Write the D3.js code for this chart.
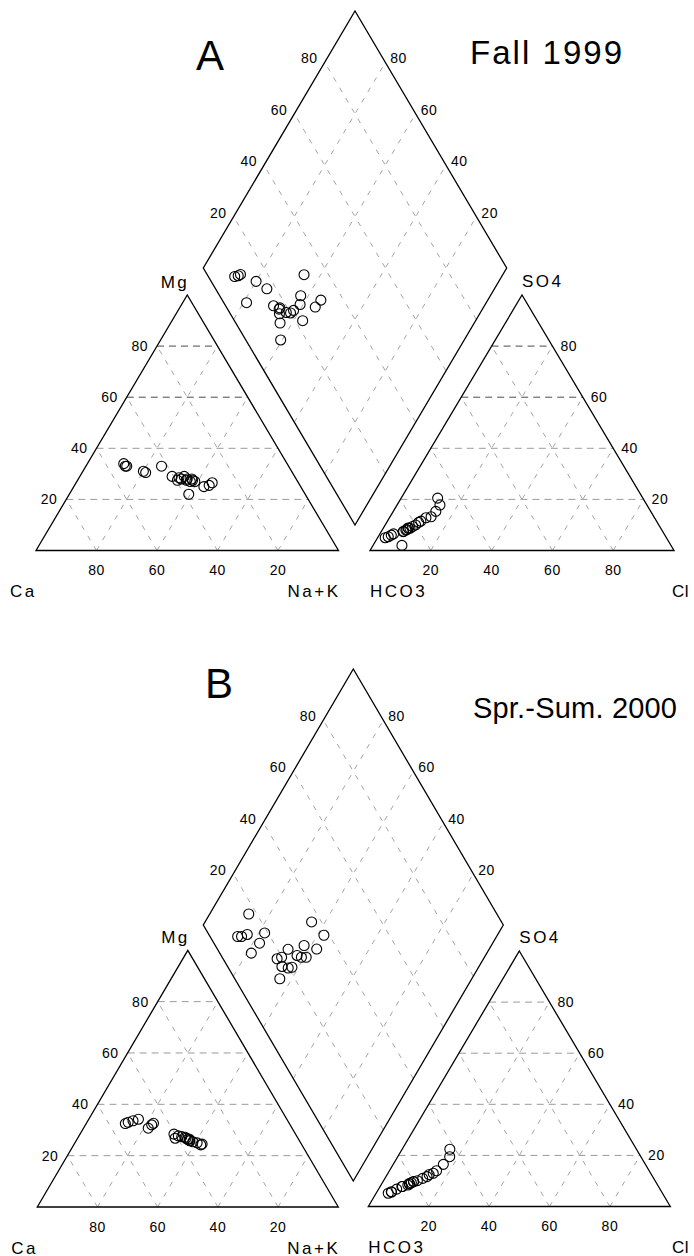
<!DOCTYPE html>
<html><head><meta charset="utf-8">
<script src="https://cdn.jsdelivr.net/npm/d3@7"></script>
<style>
body{margin:0;background:#fff}
svg{display:block}
text{font-family:Arial,"Liberation Sans",sans-serif;fill:#000}
</style>
</head><body>
<svg id="chart" width="694" height="1256"></svg>
<script>
// ---------- data ----------
const gridTicks = [20, 40, 60, 80];
const panelLetters = ["A", "B"];
const panelTitles = ["Fall 1999", "Spr.-Sum. 2000"];
const cationLabels = ["Ca", "Mg", "Na+K"];
const anionLabels = ["HCO3", "SO4", "Cl"];

// Fall 1999 samples (percent of meq)
const fallNaK = [12, 13, 13.5, 20, 25, 34.5, 21, 30.5, 33, 33, 37.5, 39, 45, 44.5, 38, 36, 37.5, 34, 36, 43, 39.5];
const fallMg  = [34, 33, 33, 31, 33, 29, 30.5, 29, 27.5, 28.5, 27, 27, 26.5, 25.5, 27.5, 28, 28, 28, 27.5, 25, 22];
const fallSO4 = [5.4, 6, 6.5, 7.5, 8.8, 17.8, 5, 8, 8.7, 8.7, 13.2, 12.8, 20.5, 15.3, 11, 9.4, 10, 8.2, 7.4, 11.5, 2];
const fallCl  = [3.3, 4, 4.5, 7.3, 8.1, 14.1, 2.5, 7.8, 8.3, 8.8, 13.5, 12, 12, 14, 10.5, 9.3, 10, 8, 7.2, 11, 9.5];

// Spring-Summer 2000 samples
const sprNaK = [13, 13.7, 15, 16.5, 22, 22.3, 21.5, 35.5, 42.2, 37.6, 42.5, 33, 32.4, 31.2, 37.2, 39, 40.6, 34.3, 36.7, 37.8, 36];
const sprMg  = [32.5, 33, 33.6, 34.2, 32, 32.6, 30.7, 27.2, 24.2, 26, 24.5, 27.7, 26.8, 28.4, 26.5, 25.4, 25, 27.4, 26.4, 25.8, 26.8];
const sprSO4 = [8.4, 5.2, 5.8, 6.8, 9.3, 7.8, 5.6, 19.5, 22.4, 14, 16.5, 11, 9.7, 8.8, 11.7, 12.5, 13, 9, 9.8, 10.1, 7.8];
const sprCl  = [8.9, 4.0, 4.7, 6, 9.6, 7.4, 4.9, 17.2, 15.8, 15.6, 16.6, 12.5, 10.1, 9.2, 13.6, 13.9, 15, 9.1, 10.1, 11.2, 7.2];

// ---------- layout ----------
const panels = [
  { letter: panelLetters[0], title: panelTitles[0], naK: fallNaK, mg: fallMg, so4: fallSO4, cl: fallCl,
    left: {x0: 36, w: 302.5, y0: 550.5, h: 255.5},
    right: {x0: 370, w: 304, y0: 550.5, h: 255.5},
    dia: {bx: 355, by: 525, hw: 151.7, hh: 257},
    letterPos: [196, 70], titlePos: [470, 64], titleLen: 152, titleSize: 33,
    darkRows: [60, 80] },
  { letter: panelLetters[1], title: panelTitles[1], naK: sprNaK, mg: sprMg, so4: sprSO4, cl: sprCl,
    left: {x0: 37.3, w: 301, y0: 1207, h: 256.7},
    right: {x0: 368.3, w: 302, y0: 1206.5, h: 255.5},
    dia: {bx: 353.3, by: 1181, hw: 150, hh: 256},
    letterPos: [205, 698], titlePos: [473, 718], titleLen: 204, titleSize: 29,
    darkRows: [] }
];

const svg = d3.select("#chart");

function triScales(g) {
  return {
    x: d3.scaleLinear().domain([0, 100]).range([g.x0, g.x0 + g.w]),
    y: d3.scaleLinear().domain([0, 100]).range([g.y0, g.y0 - g.h])
  };
}
// right = % of lower-right component, top = % of apex component
function triPos(s, right, top) { return [s.x(right + top / 2), s.y(top)]; }

function diaScales(g) {
  return {
    x: d3.scaleLinear().domain([-100, 100]).range([g.bx - g.hw, g.bx + g.hw]),
    y: d3.scaleLinear().domain([0, 200]).range([g.by, g.by - 2 * g.hh])
  };
}
// a = SO4+Cl, c = Ca+Mg
function diaPos(s, a, c) { return [s.x(a - c), s.y(a + c)]; }

const line = d3.line();

function drawTriangle(p, g, isCation) {
  const s = triScales(g);
  const grp = svg.append("g");
  gridTicks.forEach(t => {
    const dark = p.darkRows.includes(t);
    grp.append("path").attr("d", line([triPos(s, 0, t), triPos(s, 100 - t, t)]))
      .attr("stroke", dark ? "#4a4a4a" : "#9a9a9a").attr("stroke-width", 1)
      .attr("stroke-dasharray", "7,5").attr("fill", "none");
    grp.append("path").attr("d", line([triPos(s, t, 0), triPos(s, t, 100 - t)]))
      .attr("stroke", "#9a9a9a").attr("stroke-width", 0.9)
      .attr("stroke-dasharray", "5,7").attr("fill", "none");
    grp.append("path").attr("d", line([triPos(s, 100 - t, 0), triPos(s, 0, 100 - t)]))
      .attr("stroke", "#9a9a9a").attr("stroke-width", 0.9)
      .attr("stroke-dasharray", "5,7").attr("fill", "none");
  });
  grp.append("path").attr("d", line([triPos(s, 0, 0), triPos(s, 100, 0), triPos(s, 0, 100)]) + "Z")
    .attr("fill", "none").attr("stroke", "#000").attr("stroke-width", 1.3).attr("stroke-linejoin", "miter");
  gridTicks.forEach(t => {
    if (isCation) {
      const e = triPos(s, 0, t);
      grp.append("text").attr("x", e[0] - 9).attr("y", e[1] + 5).attr("text-anchor", "end")
        .attr("font-size", 14).attr("letter-spacing", 0.5).text(t);
      const b = triPos(s, 100 - t, 0);
      grp.append("text").attr("x", b[0]).attr("y", g.y0 + 24.5).attr("text-anchor", "middle")
        .attr("font-size", 14).attr("letter-spacing", 0.5).text(t);
    } else {
      const e = triPos(s, 100 - t, t);
      grp.append("text").attr("x", e[0] + 8).attr("y", e[1] + 5).attr("text-anchor", "start")
        .attr("font-size", 14).attr("letter-spacing", 0.5).text(t);
      const b = triPos(s, t, 0);
      grp.append("text").attr("x", b[0]).attr("y", g.y0 + 24.5).attr("text-anchor", "middle")
        .attr("font-size", 14).attr("letter-spacing", 0.5).text(t);
    }
  });
  const names = isCation ? cationLabels : anionLabels;
  const apex = triPos(s, 0, 100);
  const lab = (txt, x, y, anchor, ls) => grp.append("text").attr("x", x).attr("y", y)
    .attr("text-anchor", anchor).attr("font-size", 17).attr("letter-spacing", ls).text(txt);
  if (isCation) {
    lab(names[0], g.x0 - 26, g.y0 + 46.5, "start", 2.5);
    lab(names[1], apex[0] + 2, apex[1] - 7, "end", 2.5);
    lab(names[2], g.x0 + g.w + 2, g.y0 + 46.5, "end", 2.5);
  } else {
    lab(names[0], g.x0, g.y0 + 46.5, "start", 2.5);
    lab(names[1], apex[0], apex[1] - 8, "start", 2.5);
    lab(names[2], 672, g.y0 + 46.5, "start", 0.5);
  }
  return s;
}

function drawDiamond(p) {
  const g = p.dia, s = diaScales(g);
  const grp = svg.append("g");
  gridTicks.forEach(t => {
    grp.append("path").attr("d", line([diaPos(s, t, 0), diaPos(s, t, 100)]))
      .attr("stroke", "#9a9a9a").attr("stroke-width", 0.9).attr("stroke-dasharray", "5,7").attr("fill", "none");
    grp.append("path").attr("d", line([diaPos(s, 0, t), diaPos(s, 100, t)]))
      .attr("stroke", "#9a9a9a").attr("stroke-width", 0.9).attr("stroke-dasharray", "5,7").attr("fill", "none");
  });
  grp.append("path").attr("d", line([diaPos(s, 0, 0), diaPos(s, 100, 0), diaPos(s, 100, 100), diaPos(s, 0, 100)]) + "Z")
    .attr("fill", "none").attr("stroke", "#000").attr("stroke-width", 1.3);
  gridTicks.forEach(t => {
    const l = diaPos(s, t, 100);
    grp.append("text").attr("x", l[0] - 7).attr("y", l[1] + 1).attr("text-anchor", "end")
      .attr("font-size", 14).attr("letter-spacing", 0.5).text(t);
    const r = diaPos(s, 100, t);
    grp.append("text").attr("x", r[0] + 5).attr("y", r[1] + 1).attr("text-anchor", "start")
      .attr("font-size", 14).attr("letter-spacing", 0.5).text(t);
  });
  return s;
}

panels.forEach(p => {
  const sd = drawDiamond(p);
  const sl = drawTriangle(p, p.left, true);
  const sr = drawTriangle(p, p.right, false);
  const samples = p.naK.map((n, i) => ({naK: n, mg: p.mg[i], so4: p.so4[i], cl: p.cl[i]}));
  const pts = svg.append("g").attr("fill", "none").attr("stroke", "#000").attr("stroke-width", 1.1);
  samples.forEach(d => {
    const caMg = 100 - d.naK;
    const an = d.so4 + d.cl;
    const c1 = triPos(sl, d.naK, d.mg);
    const c2 = triPos(sr, d.cl, d.so4);
    const c3 = diaPos(sd, an, caMg);
    [c1, c2, c3].forEach(c => pts.append("circle").attr("cx", c[0]).attr("cy", c[1]).attr("r", 5));
  });
  svg.append("text").attr("x", p.letterPos[0]).attr("y", p.letterPos[1])
    .attr("font-size", 42).text(p.letter);
  svg.append("text").attr("x", p.titlePos[0]).attr("y", p.titlePos[1])
    .attr("font-size", p.titleSize).attr("textLength", p.titleLen).attr("lengthAdjust", "spacing").text(p.title);
});
</script>
</body></html>
